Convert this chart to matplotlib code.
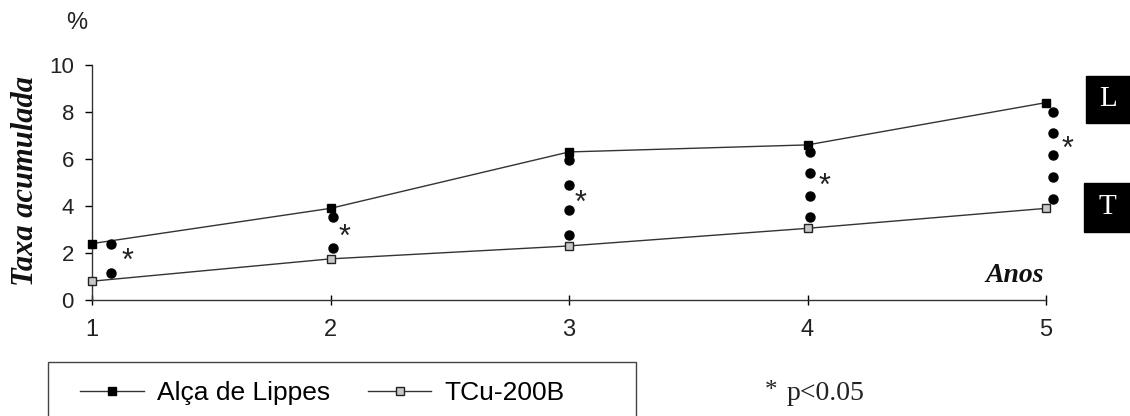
import numpy as np
import matplotlib
matplotlib.use('Agg')
import matplotlib.pyplot as plt
from matplotlib.patches import Rectangle

anos = [1, 2, 3, 4, 5]
lippes = [2.4, 3.9, 6.3, 6.6, 8.4]
tcu = [0.8, 1.75, 2.3, 3.05, 3.9]

# dotted brackets between the two curves (x, y of each dot)
dots_x = [1.08, 1.08,
          2.01, 2.01,
          3.0, 3.0, 3.0, 3.0,
          4.01, 4.01, 4.01, 4.01,
          5.03, 5.03, 5.03, 5.03, 5.03]
dots_y = [2.38, 1.15,
          3.53, 2.2,
          5.96, 4.9, 3.83, 2.77,
          6.3, 5.4, 4.43, 3.53,
          8.0, 7.1, 6.17, 5.23, 4.3]

star_x = [1.15, 2.06, 3.05, 4.07, 5.09]
star_y = [1.6, 2.65, 4.1, 4.8, 6.4]

W, H = 1130, 416
fig = plt.figure(figsize=(W / 100, H / 100), dpi=100)
ax = fig.add_axes([92 / W, 1 - 300 / H, (1046 - 92) / W, (300 - 65) / H])

ax.plot(anos, lippes, color='#333333', lw=1, marker='s', ms=6,
        mfc='black', mec='black', clip_on=False, zorder=3, label='Alça de Lippes')
ax.plot(anos, tcu, color='#333333', lw=1, marker='s', ms=6,
        mfc='#c8c8c8', mec='#222222', clip_on=False, zorder=3, label='TCu-200B')
ax.plot(dots_x, dots_y, 'o', color='black', ms=6.5, ls='none', clip_on=False, zorder=4)
for sx, sy in zip(star_x, star_y):
    ax.text(sx, sy, '*', fontsize=22, ha='center', va='center', color='#222222',
            family='Liberation Sans')

ax.set_xlim(1, 5)
ax.set_ylim(0, 10)
ax.set_xticks(anos)
ax.set_yticks([0, 2, 4, 6, 8, 10])
for s in ['top', 'right']:
    ax.spines[s].set_visible(False)
for s in ['left', 'bottom']:
    ax.spines[s].set_color('#333333')
    ax.spines[s].set_linewidth(1)
ax.tick_params(axis='y', direction='out', length=5, width=1, labelsize=16, pad=8)
ax.tick_params(axis='x', direction='inout', length=7, width=1, labelsize=17, pad=10)
for lab in ax.get_xticklabels() + ax.get_yticklabels():
    lab.set_family('Liberation Sans')
    lab.set_color('#222222')

fig.text(77 / W, 1 - 23 / H, '%', fontsize=17, ha='center', va='center',
         family='Liberation Sans', color='#222222')
fig.text(26 / W, 1 - 181 / H, 'Taxa acumulada', rotation=90, fontsize=22,
         ha='center', va='center', family='Liberation Serif',
         style='italic', weight='bold', color='#111111')
fig.text(1044 / W, 1 - 275 / H, 'Anos', fontsize=20, ha='right', va='center',
         family='Liberation Serif', style='italic', weight='bold', color='#111111')

# L / T tags at the right edge
for lbl, x0, y0, y1 in [('L', 1086, 76, 123), ('T', 1084, 183, 232)]:
    fig.patches.append(Rectangle((x0 / W, 1 - y1 / H), (W - x0) / W, (y1 - y0) / H,
                                 transform=fig.transFigure, fc='black', ec='black'))
    fig.text((x0 + W) / 2 / W, 1 - (y0 + y1) / 2 / H, lbl, fontsize=21,
             ha='center', va='center', family='Liberation Serif', color='white')

fig.text(765 / W, 1 - 391 / H, '*', fontsize=18, ha='left', va='center',
         family='Liberation Serif', color='#222222')
fig.text(787 / W, 1 - 393 / H, 'p<0.05', fontsize=20, ha='left', va='center',
         family='Liberation Serif', color='#222222')

fig.patches.append(Rectangle((48 / W, -0.1), (636 - 48) / W, (416 - 362) / H + 0.1,
                             transform=fig.transFigure, fill=False,
                             ec='#444444', lw=1))
fig.legend(loc='center left', bbox_to_anchor=(67 / W, 1 - 393 / H), ncol=2,
           frameon=False, borderpad=0, handlelength=2.4, handletextpad=0.5,
           columnspacing=1.45, prop={'family': 'Liberation Sans', 'size': 19})

fig.savefig('out.png', dpi=100)
